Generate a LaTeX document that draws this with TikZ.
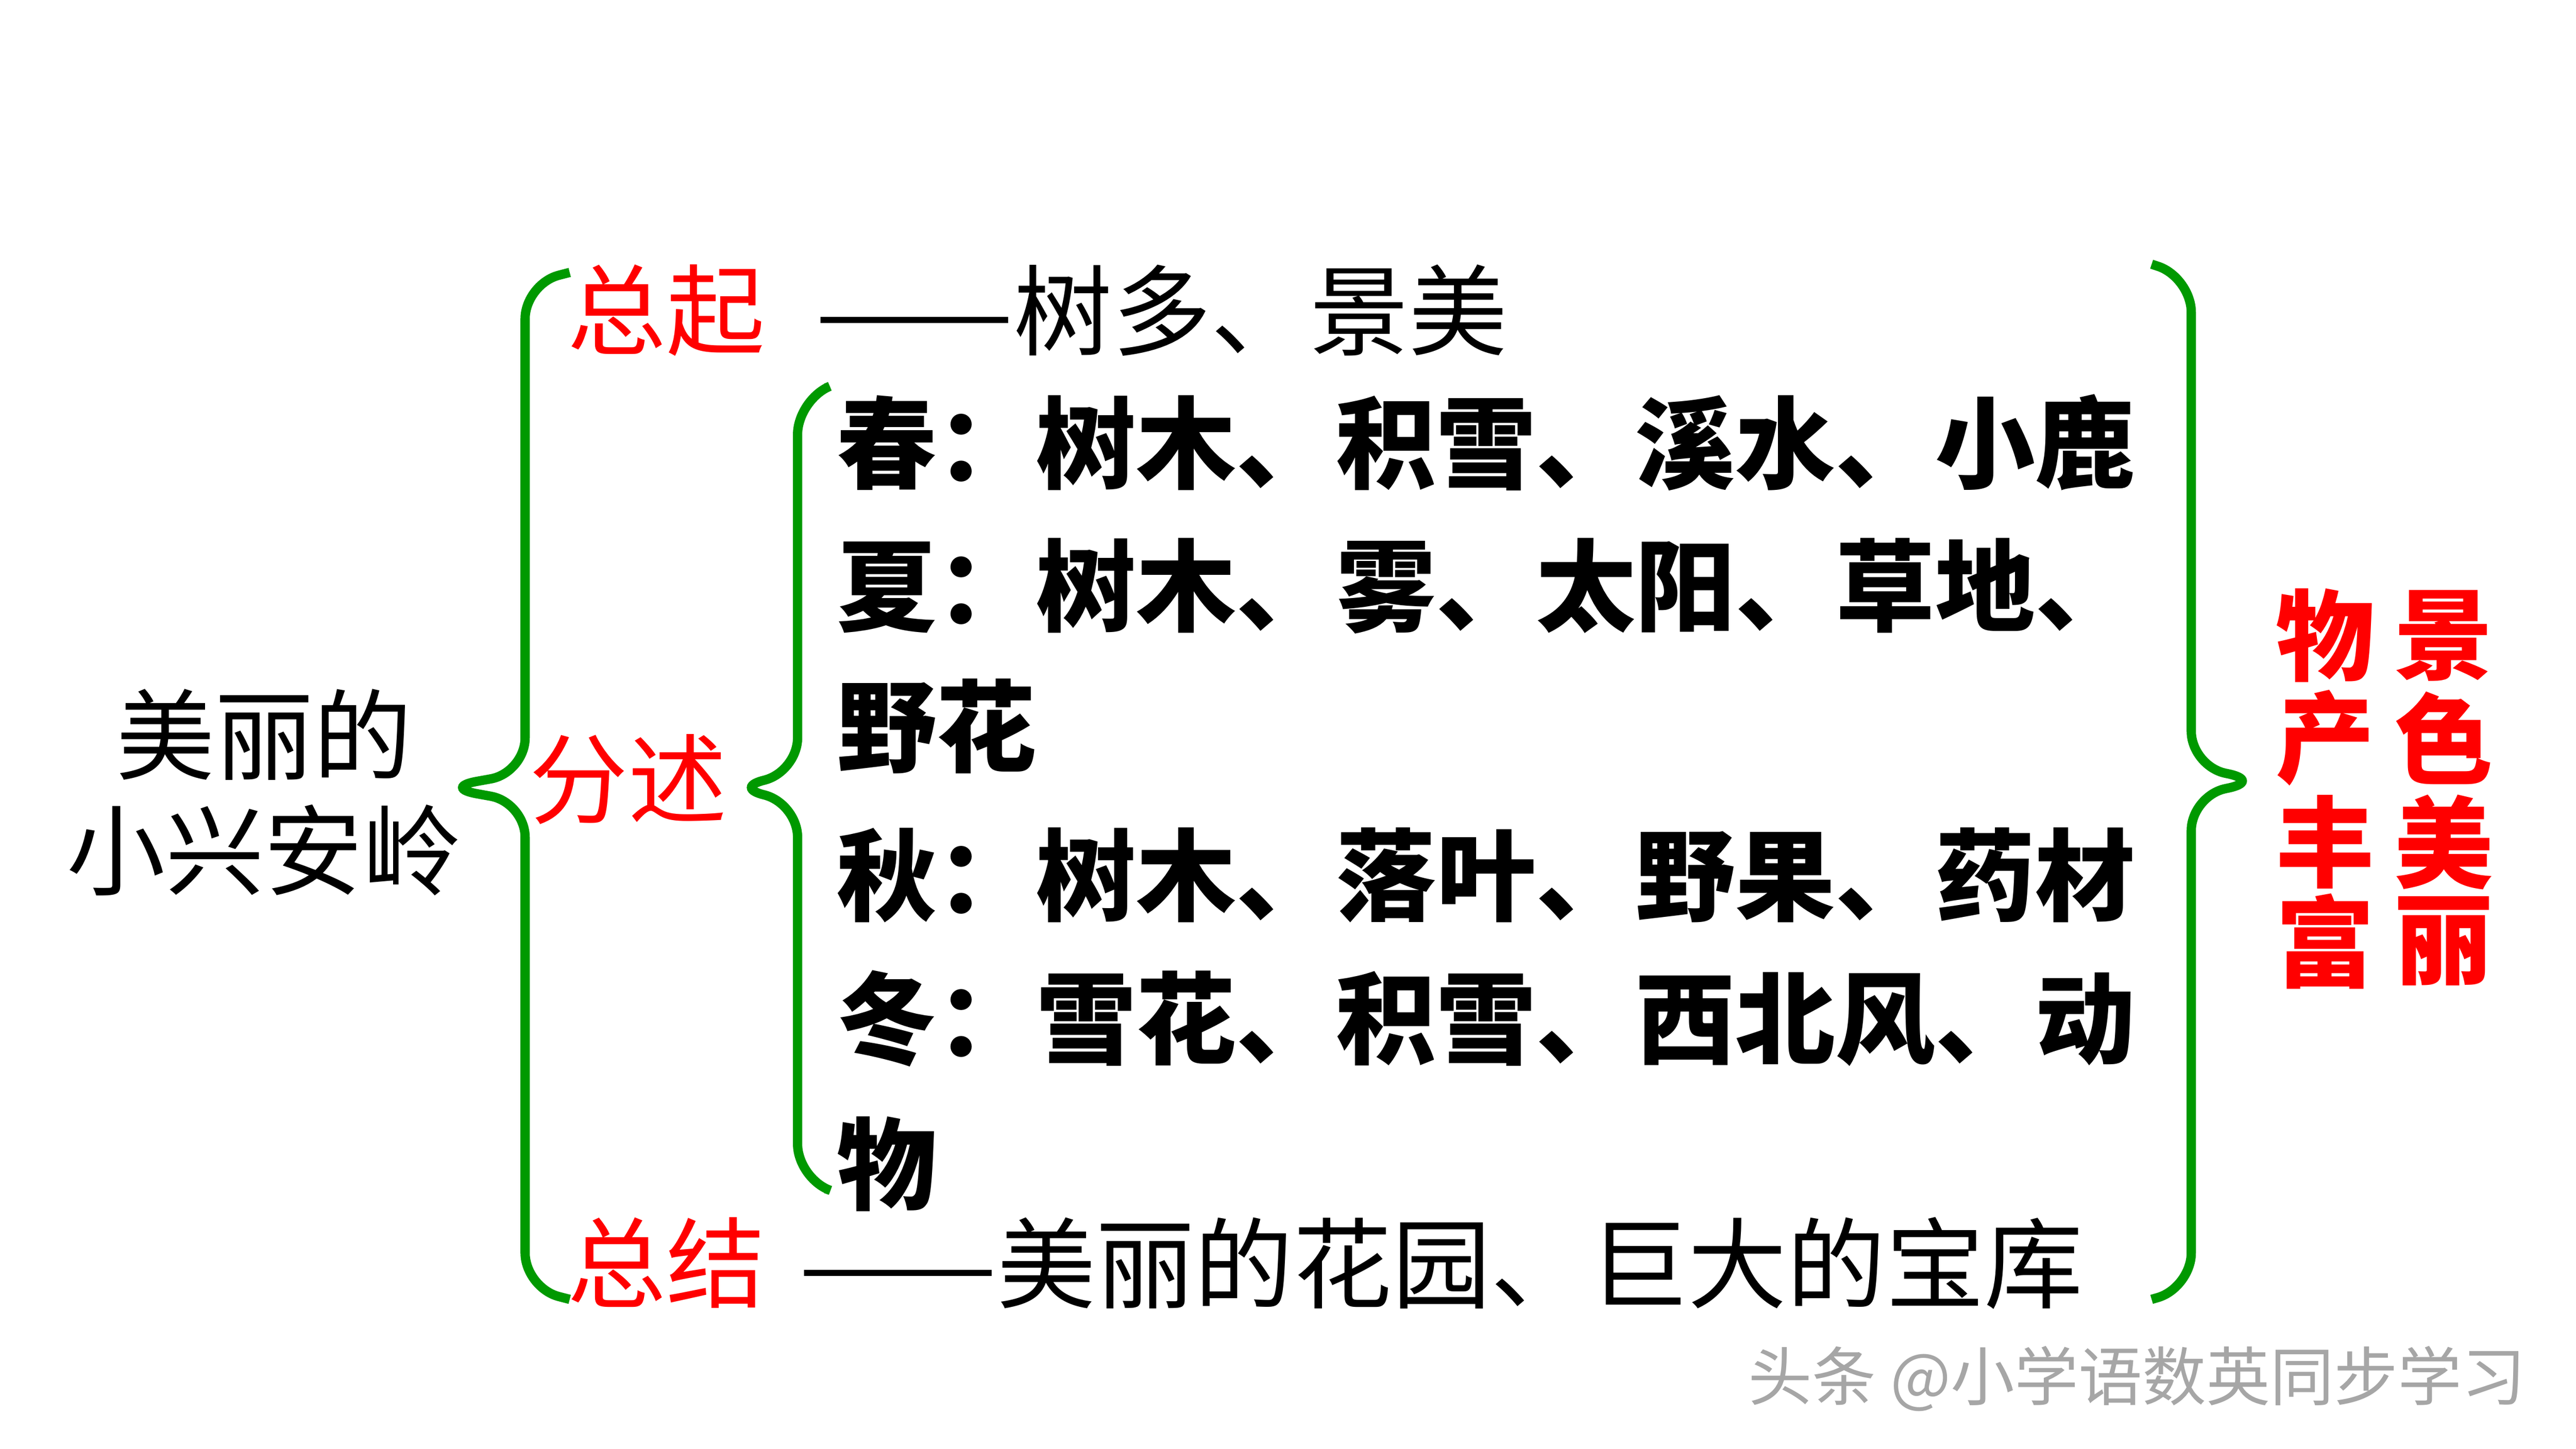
\documentclass[tikz,border=0pt]{standalone}
\usepackage{fontspec}
\newfontfamily\cjk{Noto Sans CJK SC}
\begin{document}
\begin{tikzpicture}[x=0.01cm,y=-0.01cm,
  br/.style={draw=green!60!black,line width=1.6pt,rounded corners=6pt},
  reg/.style={font=\cjk\fontsize{17pt}{19pt}\selectfont,inner sep=0,anchor=west},
  red/.style={reg,text=red},
  bd/.style={font=\cjk\bfseries\fontsize{17.2pt}{19pt}\selectfont,inner sep=0,anchor=west},
  rv/.style={font=\cjk\bfseries\fontsize{17pt}{17pt}\selectfont,text=red,inner sep=0}]
\useasboundingbox (0,0) rectangle (1560,877.5);
\node[reg,anchor=center] (t1) at (160,445) {美丽的};
\node[reg,anchor=center] (t2) at (160,515) {小兴安岭};
\draw[br] (345,165) -- (318,172) -- (318,468) -- (268,477) -- (318,486) -- (318,780) -- (345,787);
\node[red] (zq) at (343,188) {总起};
\node[red] (fs) at (320,472) {分述};
\node[red] (zj) at (343,765) {总结};
\node[reg] (a) at (493,188) {\scalebox{1.2}[1]{——}树多、景美};
\node[reg] (b) at (483,765) {\scalebox{1.2}[1]{——}美丽的花园、巨大的宝库};
\draw[br] (500,235) -- (483,242) -- (483,468) -- (443,477) -- (483,486) -- (483,714) -- (500,720);
\node[bd] (l1) at (506,268) {春：树木、积雪、溪水、小鹿};
\node[bd] (l2) at (506,355) {夏：树木、雾、太阳、草地、};
\node[bd] (l3) at (506,440) {野花};
\node[bd] (l4) at (506,530) {秋：树木、落叶、野果、药材};
\node[bd] (l5) at (506,617) {冬：雪花、积雪、西北风、动};
\node[bd] (l6) at (506,705) {物};
\draw[br] (1303,160) -- (1327,168) -- (1327,464) -- (1370,473) -- (1327,482) -- (1327,780) -- (1303,787);
\foreach \c/\y [count=\i] in {物/385,产/447,丰/510,富/570}{\node[rv] (p\i) at (1408,\y) {\c};}
\foreach \c/\y [count=\i] in {景/385,色/447,美/510,丽/570}{\node[rv] (q\i) at (1480,\y) {\c};}
\node[font=\cjk\fontsize{11pt}{13pt}\selectfont,text=gray!70,inner sep=0,anchor=west] (w) at (1058,835) {头条 @小学语数英同步学习};
\end{tikzpicture}
\end{document}
